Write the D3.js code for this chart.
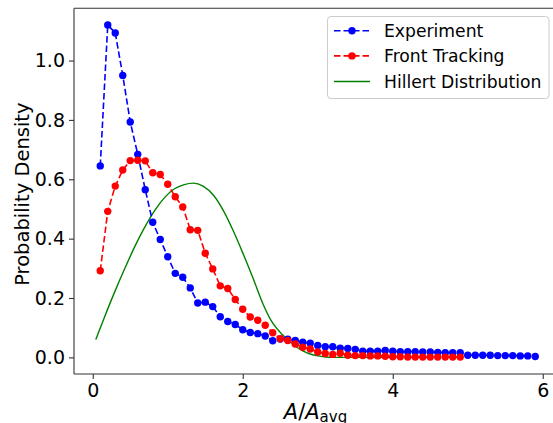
<!DOCTYPE html>
<html>
<head>
<meta charset="utf-8">
<script src="https://cdn.jsdelivr.net/npm/d3@7"></script>
<style>
  html, body { margin: 0; padding: 0; background: #fff; overflow: hidden; }
  svg { display: block; font-family: "DejaVu Sans", sans-serif; }
</style>
</head>
<body>
<svg id="chart" width="553" height="423"></svg>
<script>
// Normalised area bins (A / A_avg)
const experimentX = [0.1,0.2,0.3,0.4,0.5,0.6,0.7,0.8,0.9,1.0,1.1,1.2,1.3,1.4,1.5,1.6,1.7,1.8,1.9,2.0,
  2.1,2.2,2.3,2.4,2.5,2.6,2.7,2.8,2.9,3.0,3.1,3.2,3.3,3.4,3.5,3.6,3.7,3.8,3.9,4.0,
  4.1,4.2,4.3,4.4,4.5,4.6,4.7,4.8,4.9,5.0,5.1,5.2,5.3,5.4,5.5,5.6,5.7,5.8,5.9];
const experimentY = [0.645,1.120,1.093,0.950,0.793,0.684,0.565,0.455,0.397,0.339,0.283,0.270,0.234,0.183,0.186,0.171,0.137,0.121,0.111,0.093,
  0.084,0.080,0.072,0.056,0.062,0.061,0.057,0.051,0.048,0.040,0.036,0.036,0.031,0.030,0.027,0.021,0.021,0.021,0.023,0.021,
  0.019,0.019,0.019,0.018,0.018,0.017,0.016,0.016,0.016,0.007,0.007,0.007,0.007,0.006,0.006,0.006,0.005,0.005,0.003];

const frontX = [0.1,0.2,0.3,0.4,0.5,0.6,0.7,0.8,0.9,1.0,1.1,1.2,1.3,1.4,1.5,1.6,1.7,1.8,1.9,2.0,
  2.1,2.2,2.3,2.4,2.5,2.6,2.7,2.8,2.9,3.0,3.1,3.2,3.3,3.4,3.5,3.6,3.7,3.8,3.9,4.0,
  4.1,4.2,4.3,4.4,4.5,4.6,4.7,4.8,4.9];
const frontY = [0.292,0.492,0.577,0.631,0.663,0.664,0.662,0.622,0.616,0.583,0.541,0.507,0.430,0.428,0.351,0.298,0.241,0.232,0.195,0.162,
  0.136,0.125,0.108,0.083,0.063,0.057,0.045,0.034,0.028,0.018,0.013,0.010,0.014,0.007,0.006,0.006,0.005,0.005,0.004,0.002,
  0.002,0.001,0.001,0.001,0.001,0.001,0.001,0.001,0.001];

// Hillert distribution curve, sampled
const hillertX = [0.04,0.16,0.29,0.43,0.56,0.69,0.83,0.96,1.09,1.22,1.34,1.47,1.61,1.74,1.87,2.00,
  2.14,2.27,2.40,2.53,2.66,2.80,2.93,3.06,3.20,3.50,4.00];
const hillertY = [0.060,0.138,0.219,0.301,0.373,0.437,0.496,0.539,0.568,0.582,0.587,0.577,0.546,0.495,0.428,0.352,
  0.265,0.180,0.115,0.076,0.046,0.022,0.009,0.003,0.000,0.000,0.000];

const xTicks = [0, 2, 4, 6];
const yTicks = [0.0, 0.2, 0.4, 0.6, 0.8, 1.0];
const seriesNames = ["Experiment", "Front Tracking", "Hillert Distribution"];

const svg = d3.select("#chart");
const plot = { left: 74, right: 557, top: 8.3, bottom: 374 };

const x = d3.scaleLinear().domain([-0.25, 6.19]).range([plot.left, plot.right]);
const y = d3.scaleLinear().domain([-0.056, 1.176]).range([plot.bottom, plot.top]);

const clipId = "plotClip";
svg.append("defs").append("clipPath").attr("id", clipId)
  .append("rect").attr("x", plot.left).attr("y", plot.top)
  .attr("width", plot.right - plot.left).attr("height", plot.bottom - plot.top);

const marks = svg.append("g").attr("clip-path", `url(#${clipId})`);

// Hillert curve (underneath the markers)
const hillert = hillertX.map((v, i) => [v, hillertY[i]]);
marks.append("path")
  .datum(hillert)
  .attr("fill", "none")
  .attr("stroke", "#008000")
  .attr("stroke-width", 1.4)
  .attr("d", d3.line().x(d => x(d[0])).y(d => y(d[1])).curve(d3.curveMonotoneX));

function drawSeries(xs, ys, color) {
  const pts = xs.map((v, i) => [v, ys[i]]);
  marks.append("path")
    .datum(pts)
    .attr("fill", "none")
    .attr("stroke", color)
    .attr("stroke-width", 1.6)
    .attr("stroke-dasharray", "6.5,3")
    .attr("d", d3.line().x(d => x(d[0])).y(d => y(d[1])));
  marks.append("g").selectAll("circle").data(pts).join("circle")
    .attr("cx", d => x(d[0])).attr("cy", d => y(d[1]))
    .attr("r", 3.7).attr("fill", color);
}
drawSeries(experimentX, experimentY, "#0000ff");
drawSeries(frontX, frontY, "#ff0000");

// Axes
const xAxis = d3.axisBottom(x).tickValues(xTicks).tickFormat(d3.format("d")).tickSizeOuter(0).tickSize(5).tickPadding(5);
const yAxis = d3.axisLeft(y).tickValues(yTicks).tickFormat(d3.format(".1f")).tickSizeOuter(0).tickSize(5).tickPadding(4);

const gx = svg.append("g").attr("transform", `translate(0,${plot.bottom})`).call(xAxis);
const gy = svg.append("g").attr("transform", `translate(${plot.left},0)`).call(yAxis);
[gx, gy].forEach(g => {
  g.select(".domain").remove();
  g.selectAll(".tick line").attr("stroke", "#333").attr("stroke-width", 1.1);
  g.selectAll(".tick text").attr("fill", "#000").style("font-size", "19px").style("font-family", "DejaVu Sans");
});

// Frame: left, top and bottom spines (the right spine lies past the page edge)
const spine = (x1, y1, x2, y2) => svg.append("line")
  .attr("x1", x1).attr("y1", y1).attr("x2", x2).attr("y2", y2)
  .attr("stroke", "#333").attr("stroke-width", 1.1);
spine(plot.left, plot.top, plot.left, plot.bottom);
spine(plot.left, plot.top, plot.right, plot.top);
spine(plot.left, plot.bottom, plot.right, plot.bottom);

// Axis labels
svg.append("text")
  .attr("transform", `translate(28.5,${(plot.top + plot.bottom) / 2 + 3}) rotate(-90)`)
  .attr("text-anchor", "middle")
  .style("font-size", "19.5px")
  .text("Probability Density");

const xl = svg.append("text")
  .attr("x", (plot.left + plot.right) / 2)
  .attr("y", 419)
  .attr("text-anchor", "middle")
  .style("font-size", "21px");
xl.append("tspan").style("font-style", "italic").text("A");
xl.append("tspan").text("/");
xl.append("tspan").style("font-style", "italic").text("A");
xl.append("tspan").attr("dy", 3).style("font-size", "15px").text("avg");

// Legend
const legend = svg.append("g");
legend.append("rect")
  .attr("x", 327.5).attr("y", 16.5).attr("width", 221.5).attr("height", 82)
  .attr("rx", 3.5).attr("ry", 3.5)
  .attr("fill", "#fff").attr("fill-opacity", 0.8)
  .attr("stroke", "#cccccc").attr("stroke-width", 1);

const legendColors = ["#0000ff", "#ff0000", "#008000"];
const rowY = [30.7, 55.9, 81.5];
seriesNames.forEach((name, i) => {
  const g = legend.append("g");
  const line = g.append("line")
    .attr("x1", 334).attr("x2", 370).attr("y1", rowY[i]).attr("y2", rowY[i])
    .attr("stroke", legendColors[i]);
  if (i < 2) {
    line.attr("stroke-width", 1.6).attr("stroke-dasharray", "6.5,3");
    g.append("circle").attr("cx", 352).attr("cy", rowY[i]).attr("r", 3.7).attr("fill", legendColors[i]);
  } else {
    line.attr("stroke-width", 1.4);
  }
  g.append("text")
    .attr("x", 384).attr("y", rowY[i]).attr("dy", "0.36em")
    .style("font-size", "17.2px")
    .text(name);
});
</script>
</body>
</html>
